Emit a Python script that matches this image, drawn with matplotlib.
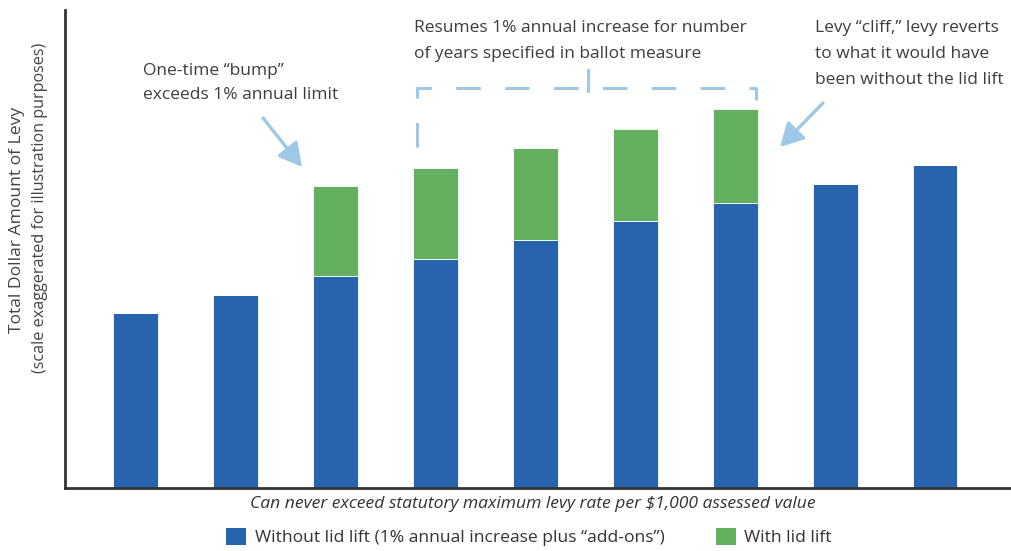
import matplotlib
matplotlib.use("Agg")
import matplotlib.pyplot as plt
from matplotlib.patches import Patch

# ---- data (arbitrary units, scale exaggerated) ----
years = list(range(1, 10))
without_lift = [175, 193, 212, 229, 248, 267, 285, 304, 323]
lift_extra = [0, 0, 90, 91, 92, 92, 94, 0, 0]

blue = "#2863AE"
green = "#64B060"
arrow_c = "#9DC8E6"
txt_c = "#3d3d3d"

plt.rcParams['font.family'] = ['Open Sans', 'DejaVu Sans']

W, H = 1011, 551
fig = plt.figure(figsize=(W / 100, H / 100), dpi=100)
ax = fig.add_axes([65 / W, (H - 488) / H, (W - 65) / W, (488 - 10) / H])

x = list(range(len(years)))
ax.bar(x, without_lift, width=0.45, color=blue, edgecolor="white", linewidth=0.6, zorder=2)
ax.bar(x, lift_extra, width=0.45, bottom=without_lift, color=green, edgecolor="white", linewidth=0.6, zorder=2)

ax.set_xlim(-0.7, 8.76)
ax.set_ylim(0, 478)
for s in ["top", "right"]:
    ax.spines[s].set_visible(False)
for s in ["left", "bottom"]:
    ax.spines[s].set_color("#333333")
    ax.spines[s].set_linewidth(2)
ax.set_xticks([])
ax.set_yticks([])


def P(px, py):
    """pixel position -> data coords"""
    return ((px - 135) / 100.0, 488 - py)


fs = 12.5
def line(px, py, s):
    ax.text(*P(px, py), s, fontsize=fs, color=txt_c, ha="left", va="baseline", clip_on=False)

line(143, 75, "One-time \u201cbump\u201d")
line(143, 99, "exceeds 1% annual limit")
line(414, 32, "Resumes 1% annual increase for number")
line(414, 58, "of years specified in ballot measure")
line(815, 32, "Levy \u201ccliff,\u201d levy reverts")
line(815, 58, "to what it would have")
line(815, 84, "been without the lid lift")

# arrows
ap = dict(arrowstyle="-|>,head_length=0.7,head_width=0.38", color=arrow_c, lw=2.4,
          mutation_scale=20, shrinkA=0, shrinkB=0)
ax.annotate("", xy=P(302, 167), xytext=P(263, 118), arrowprops=ap, annotation_clip=False)
ax.annotate("", xy=P(780, 147), xytext=P(823, 103), arrowprops=ap, annotation_clip=False)

# dashed bracket
bx = [417, 417, 756, 756]
by = [147, 88, 88, 100]
pts = [P(a, b) for a, b in zip(bx, by)]
ax.plot([p[0] for p in pts], [p[1] for p in pts], color=arrow_c, lw=2.2,
        linestyle=(0, (8, 8)), dash_capstyle="butt", solid_joinstyle="miter", clip_on=False)
c0, c1 = P(588, 70), P(588, 91)
ax.plot([c0[0], c1[0]], [c0[1], c1[1]], color=arrow_c, lw=2.2, clip_on=False)

# y label
fig.text(17 / W, 1 - 220 / H, "Total Dollar Amount of Levy", rotation=90, ha="center", va="center",
         fontsize=12.6, color="#444444")
fig.text(40 / W, 1 - 208 / H, "(scale exaggerated for illustration purposes)", rotation=90,
         ha="center", va="center", fontsize=11.6, color="#444444")

# caption
fig.text(533 / W, 1 - 504 / H, "Can never exceed statutory maximum levy rate per $1,000 assessed value",
         ha="center", va="center", fontsize=12.6, style="italic", color="#333333")

handles = [Patch(facecolor=blue, label="Without lid lift (1% annual increase plus \u201cadd-ons\u201d)"),
           Patch(facecolor=green, label="With lid lift")]
fig.legend(handles=handles, loc="center", bbox_to_anchor=(529 / W, 1 - 537 / H), ncol=2,
           frameon=False, fontsize=12.6, handlelength=1.15, handleheight=1.15,
           handletextpad=0.5, columnspacing=2.9, labelcolor="#333333")

fig.savefig("out.png", dpi=100)
